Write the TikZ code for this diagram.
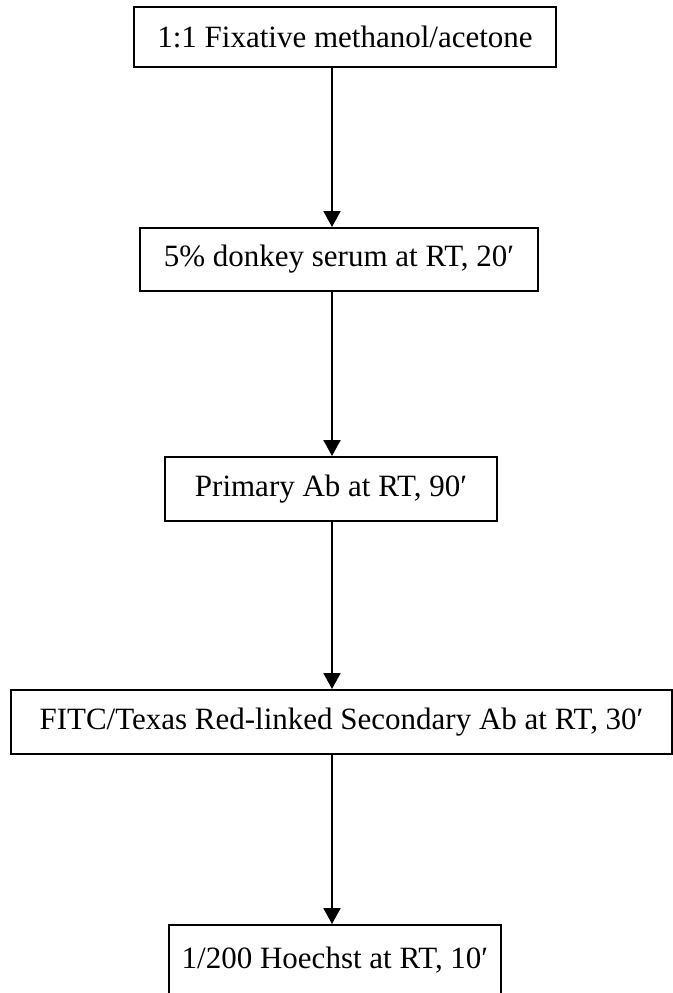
\documentclass[tikz,border=0pt]{standalone}
\usepackage{fontspec}
\setmainfont{Liberation Serif}
\usetikzlibrary{arrows.meta}

\begin{document}
\begin{tikzpicture}[x=0.5pt,y=-0.5pt,
		stepbox/.style={draw,line width=1pt,inner sep=0pt,font=\fontsize{15.5}{18}\selectfont},
		flow/.style={line width=1pt,-{Triangle[length=8pt,width=8.5pt]}}]
		\clip (0,0) rectangle (673,993);
		\coordinate (fix) at (345,37);
		\coordinate (serum) at (339,259.5);
		\coordinate (prim) at (331,489);
		\coordinate (sec) at (341.5,722);
		\coordinate (hoe) at (335,960);
		\node[stepbox,minimum width=211pt,minimum height=30pt] (Fixative) at (fix) {1:1 Fixative methanol/acetone};
		\node[stepbox,minimum width=199pt,minimum height=31.5pt] (Serum) at (serum) {5\% donkey serum at RT, 20′};
		\node[stepbox,minimum width=166pt,minimum height=32pt] (Primary) at (prim) {Primary Ab at RT, 90′};
		\node[stepbox,minimum width=330.5pt,minimum height=32pt] (Secondary) at (sec) {FITC/Texas Red-linked Secondary Ab at RT, 30′};
		\node[stepbox,minimum width=166pt,minimum height=35pt] (Hoechst) at (hoe) {1/200 Hoechst at RT, 10′};
		\draw[flow] (Fixative.south -| 332,0) -- (Serum.north -| 332,0);
		\draw[flow] (Serum.south -| 332,0) -- (Primary.north -| 332,0);
		\draw[flow] (Primary.south -| 332,0) -- (Secondary.north -| 332,0);
		\draw[flow] (Secondary.south -| 332,0) -- (Hoechst.north -| 332,0);
	\end{tikzpicture}
\end{document}
